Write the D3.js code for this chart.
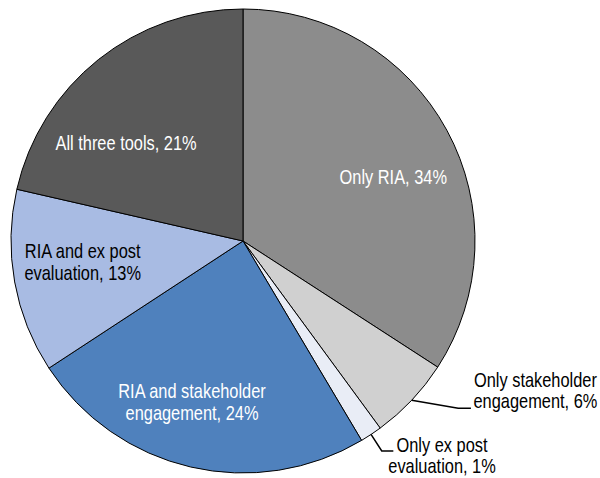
<!DOCTYPE html>
<html>
<head>
<meta charset="utf-8">
<script src="https://cdn.jsdelivr.net/npm/d3@7"></script>
<style>
  html, body { margin: 0; padding: 0; background: #fff; }
  svg { display: block; }
</style>
</head>
<body>
<svg id="chart" width="600" height="478"></svg>
<script>
// ---- data ----
const categories = [
  "Only RIA",
  "Only stakeholder engagement",
  "Only ex post evaluation",
  "RIA and stakeholder engagement",
  "RIA and ex post evaluation",
  "All three tools"
];
const values = [34.15, 5.78, 1.53, 24.31, 12.81, 21.42];
const labelLines = [
  ["Only RIA, 34%"],
  ["Only stakeholder", "engagement, 6%"],
  ["Only ex post", "evaluation, 1%"],
  ["RIA and stakeholder", "engagement, 24%"],
  ["RIA and ex post", "evaluation, 13%"],
  ["All three tools, 21%"]
];
const colors = ["#8c8c8c", "#d0d0d0", "#e9edf6", "#4f81bd", "#a8bbe3", "#595959"];
const textColors = ["#fff", "#000", "#000", "#fff", "#000", "#fff"];

// ---- layout ----
const cx = 243, cy = 241, R = 232;
const fontSize = 20, lineH = 21.7;

// detect narrow font
function hasFont(name) {
  const c = document.createElement("canvas").getContext("2d");
  const s = "RIA and ex post evaluation";
  c.font = "20px monospace"; const a = c.measureText(s).width;
  c.font = `20px "${name}", monospace`; const b = c.measureText(s).width;
  return Math.abs(a - b) > 0.5;
}
const narrow = hasFont("Liberation Sans Narrow");
const fontFamily = narrow ? "'Liberation Sans Narrow', 'Arial Narrow', sans-serif"
                          : "'Liberation Sans', Arial, sans-serif";
const squeeze = narrow ? 1 : 0.82;

const svg = d3.select("#chart");
const g = svg.append("g").attr("transform", `translate(${cx},${cy})`);

const pie = d3.pie().sort(null).value(d => d).startAngle(0).endAngle(2 * Math.PI);
const arcs = pie(values);
const arc = d3.arc().innerRadius(0).outerRadius(R);

g.selectAll("path.slice")
  .data(arcs)
  .join("path")
  .attr("class", "slice")
  .attr("d", arc)
  .attr("fill", (d, i) => colors[i])
  .attr("stroke", "#000")
  .attr("stroke-width", 1)
  .attr("stroke-linejoin", "round");

// label placement: polar anchor from slice mid-angle plus nudge (inside labels),
// or leader line for small outside labels
const inside = {
  0: { r: 160, dx: 9.7, dy: 12.2 },
  3: { r: 150, dx: -17.2, dy: 14.8 },
  4: { r: 158, dx: -4.8, dy: -6.9 },
  5: { r: 152, dx: -22.2, dy: 20.6 }
};
const outside = {
  1: { elbow: [46.5, 8.1], end: [12.7, 0], text: [64.5, -18] },
  2: { elbow: [10.7, 16.5], end: [11.6, 0], text: [48.7, 4.3] }
};

function polar(a, r) { return [r * Math.sin(a), -r * Math.cos(a)]; }

function drawText(x, y, lines, color) {
  // (x,y) = centre of text block
  const n = lines.length;
  const top = y - (n * lineH) / 2;
  const t = g.append("g")
    .attr("transform", `translate(${x},0) scale(${squeeze},1)`);
  lines.forEach((ln, k) => {
    t.append("text")
      .attr("x", 0)
      .attr("y", top + k * lineH + lineH * 0.5 + fontSize * 0.36)
      .attr("text-anchor", "middle")
      .attr("font-family", fontFamily)
      .attr("font-size", fontSize)
      .attr("fill", color)
      .text(ln);
  });
}

arcs.forEach((d, i) => {
  const mid = (d.startAngle + d.endAngle) / 2;
  if (inside[i]) {
    const o = inside[i];
    const [x, y] = polar(mid, o.r);
    drawText(x + o.dx, y + o.dy, labelLines[i], textColors[i]);
  } else {
    const o = outside[i];
    const [x0, y0] = polar(mid, R);
    const x1 = x0 + o.elbow[0], y1 = y0 + o.elbow[1];
    const x2 = x1 + o.end[0], y2 = y1 + o.end[1];
    g.append("path")
      .attr("d", `M${x0},${y0}L${x1},${y1}L${x2},${y2}`)
      .attr("fill", "none")
      .attr("stroke", "#000")
      .attr("stroke-width", 1.5);
    drawText(x2 + o.text[0], y2 + o.text[1], labelLines[i], textColors[i]);
  }
});
</script>
</body>
</html>
